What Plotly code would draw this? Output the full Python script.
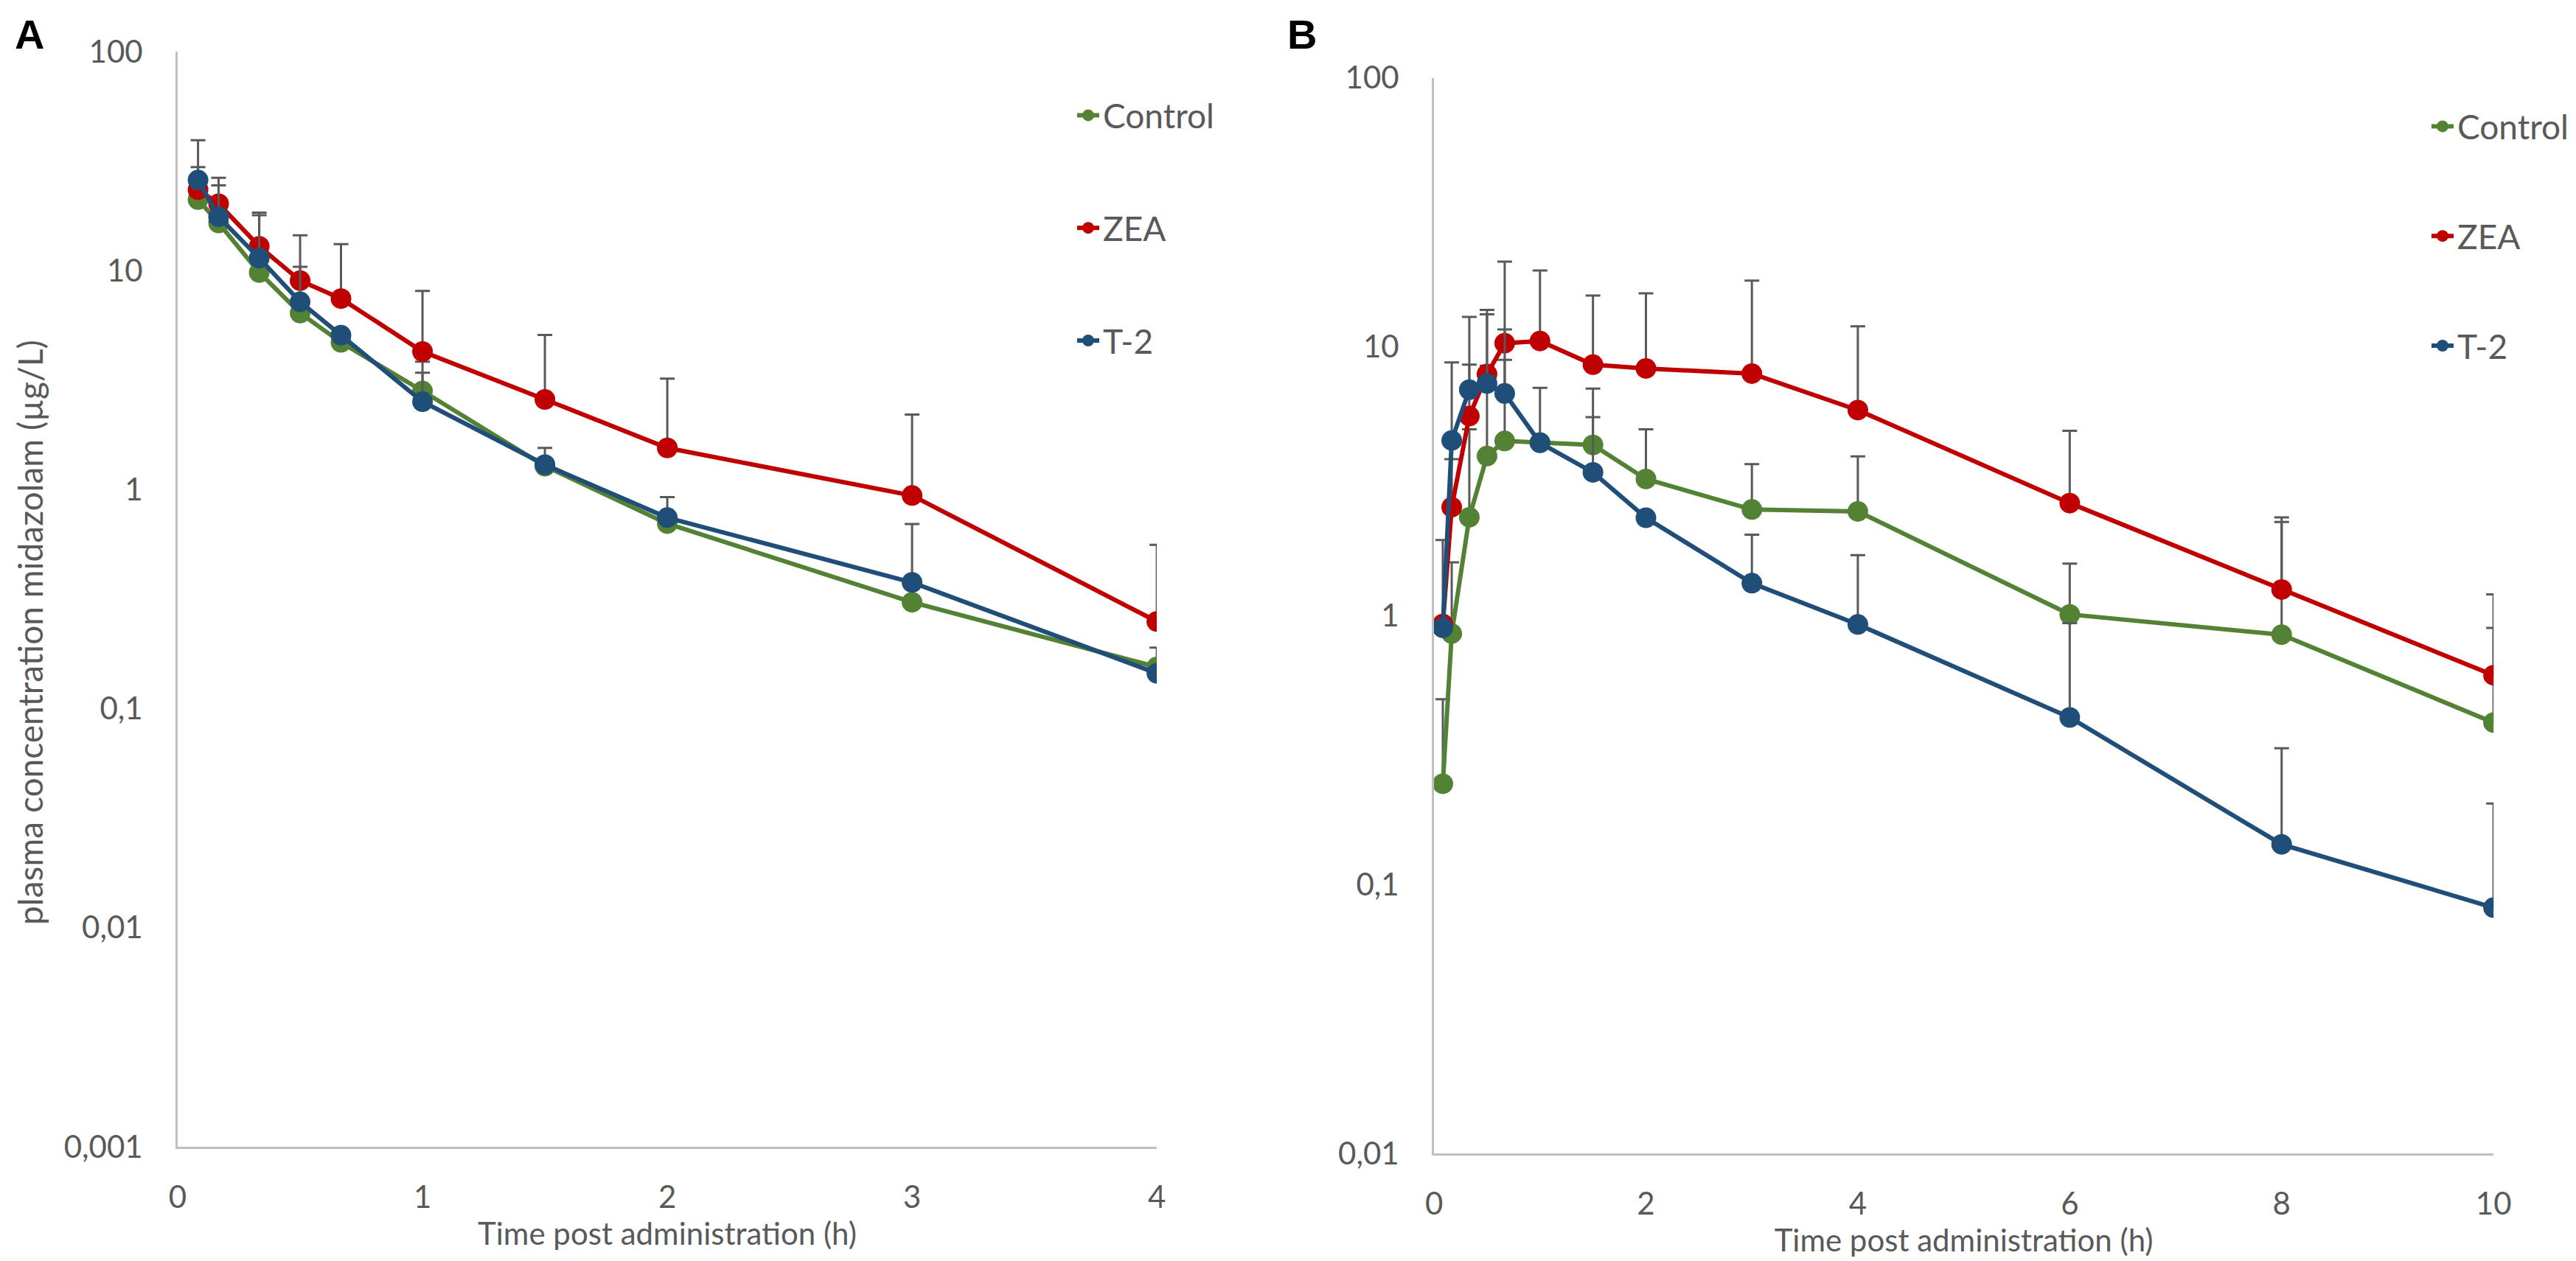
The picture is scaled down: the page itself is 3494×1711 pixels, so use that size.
import plotly.graph_objects as go

# ---------------- data ----------------
series_names = ["Control", "ZEA", "T-2"]
series_colors = ["#548235", "#C00000", "#1F4E79"]

# Panel A (time in h)
time_a = [0.083, 0.167, 0.333, 0.5, 0.667, 1, 1.5, 2, 3, 4]
control_a = [21.1, 16.5, 9.8, 6.4, 4.7, 2.82, 1.28, 0.70, 0.306, 0.155]
zea_a = [23.4, 20.2, 12.9, 9.0, 7.45, 4.27, 2.58, 1.55, 0.94, 0.25]
t2_a = [25.9, 17.6, 11.4, 7.2, 5.07, 2.52, 1.30, 0.745, 0.377, 0.145]
control_a_sd = [0, 0, 0, 0, 0, 1.02, 0, 0, 0, 0.035]
zea_a_sd = [6.3, 6.3, 5.5, 5.5, 5.75, 3.8, 2.5, 1.66, 1.26, 0.31]
t2_a_sd = [13.5, 6.9, 6.5, 3.2, 0, 0.9, 0.25, 0.18, 0.32, 0]

# Panel B (time in h)
time_b = [0.083, 0.167, 0.333, 0.5, 0.667, 1, 1.5, 2, 3, 4, 6, 8, 10]
control_b = [0.237, 0.857, 2.32, 3.92, 4.46, 4.4, 4.31, 3.22, 2.48, 2.44, 1.01, 0.849, 0.40]
zea_b = [0.93, 2.53, 5.52, 7.91, 10.3, 10.5, 8.57, 8.30, 7.94, 5.81, 2.62, 1.25, 0.60]
t2_b = [0.90, 4.48, 6.92, 7.30, 6.70, 4.39, 3.41, 2.31, 1.32, 0.927, 0.418, 0.141, 0.082]
control_b_sd = [0.252, 0.72, 2.61, 4.58, 4.47, 2.63, 2.67, 1.71, 1.18, 1.47, 0.55, 1.38, 0.50]
zea_b_sd = [0, 1.29, 7.38, 5.79, 10.4, 8.7, 6.93, 7.5, 9.66, 6.09, 2.25, 1.07, 0.60]
t2_b_sd = [1.01, 4.26, 1.65, 5.9, 4.9, 0, 2.06, 0, 0.68, 0.75, 0.52, 0.18, 0.118]

y_ticks_a = [0.001, 0.01, 0.1, 1, 10, 100]
y_ticktext_a = ["0,001", "0,01", "0,1", "1", "10", "100"]
y_ticks_b = [0.01, 0.1, 1, 10, 100]
y_ticktext_b = ["0,01", "0,1", "1", "10", "100"]

x_title = "Time post administration (h)"
y_title = "plasma concentration midazolam (µg/L)"

# ---------------- figure ----------------
W, H = 3494, 1711
FONT = "Lato, Liberation Sans, sans-serif"
GREY_TXT = "#595959"
AXIS_LINE = "#BFBFBF"

fig = go.Figure()

panel_a = [control_a, zea_a, t2_a]
panel_a_sd = [control_a_sd, zea_a_sd, t2_a_sd]
panel_b = [control_b, zea_b, t2_b]
panel_b_sd = [control_b_sd, zea_b_sd, t2_b_sd]

for i, name in enumerate(series_names):
    fig.add_trace(go.Scatter(
        x=time_a, y=panel_a[i], name=name, mode="lines+markers",
        line=dict(color=series_colors[i], width=6),
        marker=dict(color=series_colors[i], size=28),
        error_y=dict(type="data", symmetric=False, array=panel_a_sd[i],
                     arrayminus=[0] * len(time_a), color=GREY_TXT,
                     thickness=3, width=10),
        xaxis="x", yaxis="y", legend="legend", legendgroup="a%d" % i,
    ))

for i, name in enumerate(series_names):
    fig.add_trace(go.Scatter(
        x=time_b, y=panel_b[i], name=name, mode="lines+markers",
        line=dict(color=series_colors[i], width=6),
        marker=dict(color=series_colors[i], size=28),
        error_y=dict(type="data", symmetric=False, array=panel_b_sd[i],
                     arrayminus=[0] * len(time_b), color=GREY_TXT,
                     thickness=3, width=10),
        xaxis="x2", yaxis="y2", legend="legend2", legendgroup="b%d" % i,
    ))

axis_common = dict(showgrid=False, zeroline=False, showline=True,
                   linecolor=AXIS_LINE, linewidth=3, ticks="",
                   tickfont=dict(family=FONT, size=42, color=GREY_TXT))

fig.update_layout(
    width=W, height=H,
    margin=dict(l=0, r=0, t=0, b=0, autoexpand=False),
    paper_bgcolor="white", plot_bgcolor="white",
    font=dict(family=FONT, color=GREY_TXT),
    xaxis=dict(domain=[0.0667, 0.4468], range=[0, 4], dtick=1,
               title=dict(text=x_title, font=dict(size=42, color=GREY_TXT), standoff=6),
               ticklabelstandoff=30, anchor="y", **axis_common),
    yaxis=dict(domain=[0.0953, 0.9638], type="log", range=[-3, 2],
               tickvals=y_ticks_a, ticktext=y_ticktext_a,
               ticklabelstandoff=36, anchor="x", **axis_common),
    xaxis2=dict(domain=[0.5544, 0.9657], range=[0, 10], dtick=2,
                title=dict(text=x_title, font=dict(size=42, color=GREY_TXT), standoff=6),
                ticklabelstandoff=30, anchor="y2", **axis_common),
    yaxis2=dict(domain=[0.090, 0.943], type="log", range=[-2, 2],
                tickvals=y_ticks_b, ticktext=y_ticktext_b,
                ticklabelstandoff=36, anchor="x2", **axis_common),
    legend=dict(x=1448 / W, y=1 - 112 / H, xanchor="left", yanchor="top",
                font=dict(family=FONT, size=46, color=GREY_TXT),
                tracegroupgap=90, bgcolor="rgba(0,0,0,0)"),
    legend2=dict(x=3285 / W, y=1 - 127 / H, xanchor="left", yanchor="top",
                 font=dict(family=FONT, size=46, color=GREY_TXT),
                 tracegroupgap=86, bgcolor="rgba(0,0,0,0)"),
    showlegend=True,
)

fig.add_annotation(text=y_title, textangle=-90, x=32 / W, y=1 - 850 / H,
                   xref="paper", yref="paper", showarrow=False,
                   xanchor="center", yanchor="middle",
                   font=dict(family=FONT, size=46, color=GREY_TXT))
fig.add_annotation(text="<b>A</b>", x=32 / W, y=1 - 38 / H,
                   xref="paper", yref="paper", showarrow=False,
                   xanchor="center", yanchor="middle",
                   font=dict(family="Liberation Sans, Arial", size=56, color="black"))
fig.add_annotation(text="<b>B</b>", x=1758 / W, y=1 - 38 / H,
                   xref="paper", yref="paper", showarrow=False,
                   xanchor="center", yanchor="middle",
                   font=dict(family="Liberation Sans, Arial", size=56, color="black"))

fig.write_html("out.html")
